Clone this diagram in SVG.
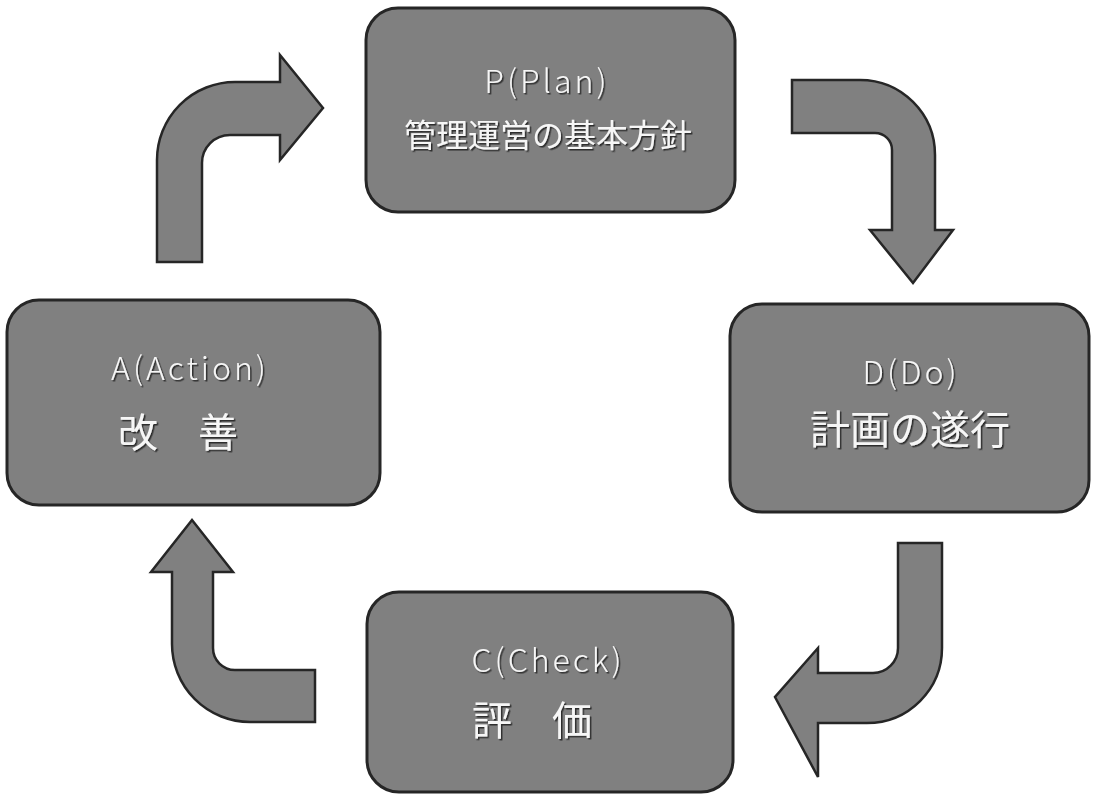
<svg xmlns="http://www.w3.org/2000/svg" width="1094" height="796" viewBox="0 0 1094 796">
<defs>
<filter id="sh" x="-10%" y="-10%" width="120%" height="130%">
<feDropShadow dx="1.5" dy="1.5" stdDeviation="0.6" flood-color="#222" flood-opacity="0.9"/>
</filter>
</defs>
<style>
.box{fill:#808080;stroke:#262626;stroke-width:3}
.arr{fill:#808080;stroke:#262626;stroke-width:2.5}
.t{fill:#f6f6f6;font-family:"Noto Sans CJK JP","DejaVu Sans",sans-serif;text-anchor:middle;filter:url(#sh)}
.lat{font-size:32px;font-weight:300;letter-spacing:3px}
.jp{font-size:32px}
.jpl{font-size:40px}
</style>
<rect width="1094" height="796" fill="#ffffff"/>
<g id="connectors">
<path class="arr" d="M157 262 V160 A78 78 0 0 1 235 82 H280 V55 L323 108 L280 160 V135 H230 A28 28 0 0 0 202 163 V262 Z"/>
<path class="arr" d="M792 80 H860 A75 75 0 0 1 935 155 V230 H953 L913 283 L870 230 H892 V150 A17 17 0 0 0 875 133 H792 Z"/>
<path class="arr" d="M898 543 H942 V648 A75 75 0 0 1 867 723 H818 V777 L775 697 L818 648 V673 H873 A25 25 0 0 0 898 648 Z"/>
<path class="arr" d="M172 572 H151 L192 520 L233 572 H213 V648 A22 22 0 0 0 235 670 H315 V722 H250 A78 78 0 0 1 172 644 Z"/>
</g>
<g id="node-plan">
<rect class="box" x="366" y="8" width="369" height="204" rx="32"/>
<text class="t lat" x="547" y="93">P(Plan)</text>
<text class="t jp" x="548" y="147">管理運営の基本方針</text>
</g>
<g id="node-do">
<rect class="box" x="730" y="304" width="359" height="208" rx="32"/>
<text class="t lat" x="911" y="384">D(Do)</text>
<text class="t jpl" x="910" y="444">計画の遂行</text>
</g>
<g id="node-check">
<rect class="box" x="367" y="592" width="366" height="200" rx="32"/>
<text class="t lat" x="548" y="672">C(Check)</text>
<text class="t jpl" x="532" y="735">評　価</text>
</g>
<g id="node-action">
<rect class="box" x="7" y="300" width="373" height="205" rx="32"/>
<text class="t lat" x="190" y="380">A(Action)</text>
<text class="t jpl" x="178" y="447">改　善</text>
</g>
</svg>
